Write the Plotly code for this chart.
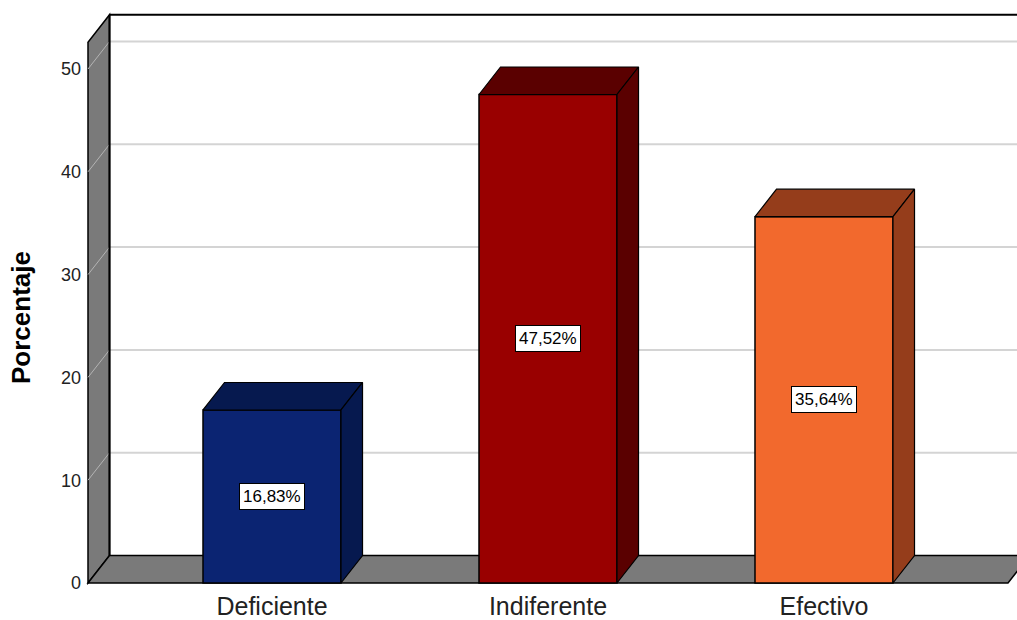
import plotly.graph_objects as go

# Data
categories = ["Deficiente", "Indiferente", "Efectivo"]
percentages = [16.83, 47.52, 35.64]
labels = ["16,83%", "47,52%", "35,64%"]
y_ticks = [0, 10, 20, 30, 40, 50]

# Styles
front_colors = ["#0b2472", "#990000", "#f2692d"]
shade_colors = ["#06194f", "#5a0000", "#953d1b"]
wall_color = "#7a7a7a"
grid_color = "#d4d4d4"
wall_grid_color = "#b4b4b4"
font_family = "Liberation Sans, Arial, sans-serif"

# 3D geometry (axis units)
bar_width = 0.5
depth_x = 0.078          # horizontal offset of the back plane
depth_y = 2.675          # vertical offset of the back plane
x_left = -2 / 3          # front-left corner of the floor
x_right = 2 + 2 / 3      # front-right corner of the floor
y_top = 52.6             # height of the walls
x_range = [-0.6739, 2.6993]
y_range = [-0.389, 55.74]

fig = go.Figure()

shapes = []
# back-wall gridlines
for v in y_ticks[1:]:
    shapes.append(dict(type="line", xref="x", yref="y", layer="below",
                       x0=x_left + depth_x, y0=v + depth_y, x1=x_right + depth_x + 0.2, y1=v + depth_y,
                       line=dict(color=grid_color, width=2)))
# left wall
shapes.append(dict(type="path", xref="x", yref="y", layer="below",
                   path=f"M {x_left},0 L {x_left},{y_top} L {x_left + depth_x},{y_top + depth_y} "
                        f"L {x_left + depth_x},{depth_y} Z",
                   fillcolor=wall_color, line=dict(color="black", width=1.5)))
# diagonal gridlines on the wall
for v in y_ticks[1:]:
    shapes.append(dict(type="line", xref="x", yref="y", layer="below",
                       x0=x_left, y0=v, x1=x_left + depth_x, y1=v + depth_y,
                       line=dict(color=wall_grid_color, width=1)))
# floor
shapes.append(dict(type="path", xref="x", yref="y", layer="below",
                   path=f"M {x_left},0 L {x_right},0 L {x_right + depth_x},{depth_y} "
                        f"L {x_left + depth_x},{depth_y} Z",
                   fillcolor=wall_color, line=dict(color="black", width=1.5)))
# back frame: top edge and left edge of the back wall
shapes.append(dict(type="line", xref="x", yref="y", layer="below",
                   x0=x_left + depth_x, y0=y_top + depth_y, x1=x_right + depth_x + 0.2, y1=y_top + depth_y,
                   line=dict(color="black", width=2)))
shapes.append(dict(type="line", xref="x", yref="y", layer="below",
                   x0=x_left + depth_x, y0=depth_y, x1=x_left + depth_x, y1=y_top + depth_y,
                   line=dict(color="black", width=2)))

# front faces of the bars
fig.add_trace(go.Bar(
    x=list(range(len(categories))), y=percentages, width=bar_width,
    marker=dict(color=front_colors, line=dict(color="black", width=1.5)),
    hoverinfo="skip", showlegend=False,
))

# top and side faces
for i, v in enumerate(percentages):
    xl, xr = i - bar_width / 2, i + bar_width / 2
    fig.add_trace(go.Scatter(
        x=[xl, xr, xr + depth_x, xl + depth_x, xl],
        y=[v, v, v + depth_y, v + depth_y, v],
        fill="toself", fillcolor=shade_colors[i], mode="lines",
        line=dict(color="black", width=1.2), hoverinfo="skip", showlegend=False,
    ))
    fig.add_trace(go.Scatter(
        x=[xr, xr + depth_x, xr + depth_x, xr, xr],
        y=[0, depth_y, v + depth_y, v, 0],
        fill="toself", fillcolor=shade_colors[i], mode="lines",
        line=dict(color="black", width=1.2), hoverinfo="skip", showlegend=False,
    ))

# value labels
annotations = []
for i, (v, t) in enumerate(zip(percentages, labels)):
    annotations.append(dict(x=i, y=v / 2, xref="x", yref="y", text=t, showarrow=False,
                            font=dict(family=font_family, size=17, color="black"),
                            bgcolor="white", bordercolor="black", borderwidth=1, borderpad=3))
annotations.append(dict(x=-0.0698, y=(583 - 314) / 577, xref="paper", yref="paper",
                        text="<b>Porcentaje</b>", textangle=-90, showarrow=False,
                        xanchor="center", yanchor="middle",
                        font=dict(family=font_family, size=26, color="black")))

fig.update_layout(
    width=1017, height=620,
    margin=dict(l=86, r=0, t=10, b=33),
    paper_bgcolor="white", plot_bgcolor="white",
    shapes=shapes, annotations=annotations,
    xaxis=dict(range=x_range, tickvals=list(range(len(categories))), ticktext=categories,
               showgrid=False, zeroline=False, showline=False, ticks="",
               ticklabelstandoff=2,
               tickfont=dict(family=font_family, size=25, color="#222222")),
    yaxis=dict(range=y_range, tickvals=y_ticks, showgrid=False, zeroline=False,
               showline=False, ticks="", ticklabelstandoff=4,
               tickfont=dict(family=font_family, size=18, color="#222222")),
)

fig.write_html("out.html")
